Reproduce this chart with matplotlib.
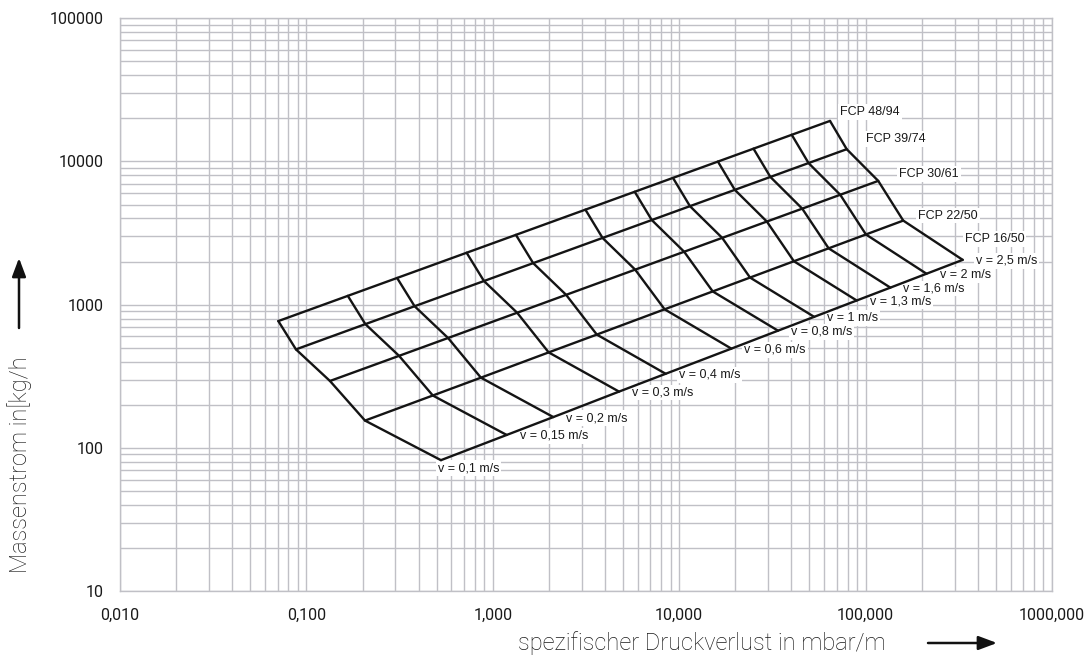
import matplotlib
matplotlib.use("Agg")
import matplotlib.pyplot as plt
from matplotlib.ticker import FixedLocator, FixedFormatter, LogLocator, NullFormatter

# ---------------- data ----------------
pipes = ["FCP 16/50", "FCP 22/50", "FCP 30/61", "FCP 39/74", "FCP 48/94"]
velocities = [0.1, 0.15, 0.2, 0.3, 0.4, 0.6, 0.8, 1.0, 1.3, 1.6, 2.0, 2.5]
velocity_labels = ["v = 0,1 m/s", "v = 0,15 m/s", "v = 0,2 m/s", "v = 0,3 m/s",
                   "v = 0,4 m/s", "v = 0,6 m/s", "v = 0,8 m/s", "v = 1 m/s",
                   "v = 1,3 m/s", "v = 1,6 m/s", "v = 2 m/s", "v = 2,5 m/s"]

# mass flow [kg/h] per pipe at each velocity
massflow_16 = [82, 123, 164, 247, 329, 493, 658, 822, 1069, 1315, 1644, 2055]
massflow_22 = [155, 232, 309, 464, 618, 928, 1237, 1546, 2010, 2474, 3092, 3865]
massflow_30 = [293, 439, 585, 878, 1171, 1756, 2342, 2927, 3805, 4683, 5854, 7318]
massflow_39 = [487, 731, 975, 1462, 1950, 2924, 3899, 4874, 6336, 7798, 9748, 12185]
massflow_48 = [768, 1152, 1536, 2304, 3072, 4608, 6144, 7680, 9984, 12288, 15360, 19200]

# specific pressure loss [mbar/m] per pipe at each velocity
dp_16 = [0.527, 1.187, 2.112, 4.756, 8.46, 19.05, 33.89, 52.98, 89.6, 135.8, 212.2, 331.8]
dp_22 = [0.2063, 0.4766, 0.8634, 1.994, 3.614, 8.35, 15.13, 23.99, 41.24, 63.33, 100.4, 159.2]
dp_30 = [0.1338, 0.3142, 0.5754, 1.351, 2.474, 5.805, 10.63, 17.01, 29.53, 45.72, 73.1, 116.9]
dp_39 = [0.0879, 0.2072, 0.3806, 0.8966, 1.6465, 3.88, 7.126, 11.42, 19.88, 30.84, 49.42, 79.2]
dp_48 = [0.0707, 0.1668, 0.3066, 0.7237, 1.3305, 3.139, 5.771, 9.259, 16.13, 25.04, 40.16, 64.42]

x_ticks = [0.01, 0.1, 1, 10, 100, 1000]
x_tick_labels = ["0,010", "0,100", "1,000", "10,000", "100,000", "1000,000"]
y_ticks = [10, 100, 1000, 10000, 100000]
y_tick_labels = ["10", "100", "1000", "10000", "100000"]

massflows = [massflow_16, massflow_22, massflow_30, massflow_39, massflow_48]
dps = [dp_16, dp_22, dp_30, dp_39, dp_48]

# ---------------- styling ----------------
W, H = 1091, 659
GRID = "#c0c0c6"
MESH = "#141414"
TEXT = "#1a1a1a"
TITLE_FONT = ["Roboto", "DejaVu Sans"]
LABEL_FONT = ["Liberation Sans", "DejaVu Sans"]

fig = plt.figure(figsize=(W / 100, H / 100), dpi=100)
ax = fig.add_axes([120 / W, 1 - 591 / H, (1052 - 120) / W, (591 - 18.3) / H])
ax.set_xscale("log")
ax.set_yscale("log")
ax.set_xlim(0.01, 1000)
ax.set_ylim(10, 100000)

ax.xaxis.set_major_locator(FixedLocator(x_ticks))
ax.xaxis.set_major_formatter(FixedFormatter(x_tick_labels))
ax.yaxis.set_major_locator(FixedLocator(y_ticks))
ax.yaxis.set_major_formatter(FixedFormatter(y_tick_labels))
ax.xaxis.set_minor_locator(LogLocator(base=10, subs=range(2, 10), numticks=20))
ax.yaxis.set_minor_locator(LogLocator(base=10, subs=range(2, 10), numticks=20))
ax.xaxis.set_minor_formatter(NullFormatter())
ax.yaxis.set_minor_formatter(NullFormatter())
ax.tick_params(which="both", length=0)
ax.tick_params(axis="x", pad=12)
ax.tick_params(axis="y", pad=12)
for lab in ax.get_xticklabels() + ax.get_yticklabels():
    lab.set_fontfamily(TITLE_FONT)
    lab.set_fontweight("normal")
    lab.set_fontsize(11.5)
    lab.set_color(TEXT)

ax.grid(which="both", color=GRID, lw=1.0)
ax.set_axisbelow(True)
for sp in ax.spines.values():
    sp.set_color(GRID)
    sp.set_linewidth(1.0)

# pipe lines
for dp, m in zip(dps, massflows):
    ax.plot(dp, m, color=MESH, lw=1.7, zorder=4, solid_capstyle="round")
# velocity lines
for j in range(len(velocities)):
    ax.plot([d[j] for d in dps], [m[j] for m in massflows], color=MESH, lw=1.7,
            zorder=4, solid_capstyle="round", solid_joinstyle="round")

box = dict(boxstyle="square,pad=0.15", fc="white", ec="none")

# velocity labels at the smallest pipe (FCP 16/50)
for j, txt in enumerate(velocity_labels):
    off = (-3, -8) if j == 0 else (13, -1)
    ax.annotate(txt, (dp_16[j], massflow_16[j]), xytext=off, textcoords="offset pixels",
                ha="left", va="center", fontsize=9, family=LABEL_FONT,
                color=TEXT, bbox=box, zorder=3)

# pipe labels at the upper-right ends
pipe_offsets = [(2, 21), (15, 5), (21, 7), (19, 10), (10, 9)]
for dp, m, name, off in zip(dps, massflows, pipes, pipe_offsets):
    ax.annotate(name, (dp[-1], m[-1]), xytext=off, textcoords="offset pixels",
                ha="left", va="center", fontsize=9, family=LABEL_FONT,
                color=TEXT, bbox=box, zorder=3)

# axis titles with arrows
fig.text(20 / W, 1 - 465 / H, "Massenstrom in[kg/h", rotation=90, ha="center",
         va="center", fontsize=17, family=TITLE_FONT, fontweight="light", color=TEXT)
fig.text(702 / W, 1 - 643 / H, "spezifischer Druckverlust in mbar/m", ha="center",
         va="center", fontsize=17, family=TITLE_FONT, fontweight="light", color=TEXT)

arrow = dict(arrowstyle="-|>,head_length=0.8,head_width=0.3", color="#111111", lw=1.8,
             shrinkA=0, shrinkB=0)
fig.add_artist(matplotlib.patches.FancyArrowPatch((19 / W, 1 - 328 / H), (19 / W, 1 - 258 / H),
                                                   transform=fig.transFigure,
                                                   mutation_scale=14, **arrow))
fig.add_artist(matplotlib.patches.FancyArrowPatch((928 / W, 1 - 643 / H), (997 / W, 1 - 643 / H),
                                                   transform=fig.transFigure,
                                                   mutation_scale=14, **arrow))

fig.savefig("out.png", dpi=100, facecolor="white")
